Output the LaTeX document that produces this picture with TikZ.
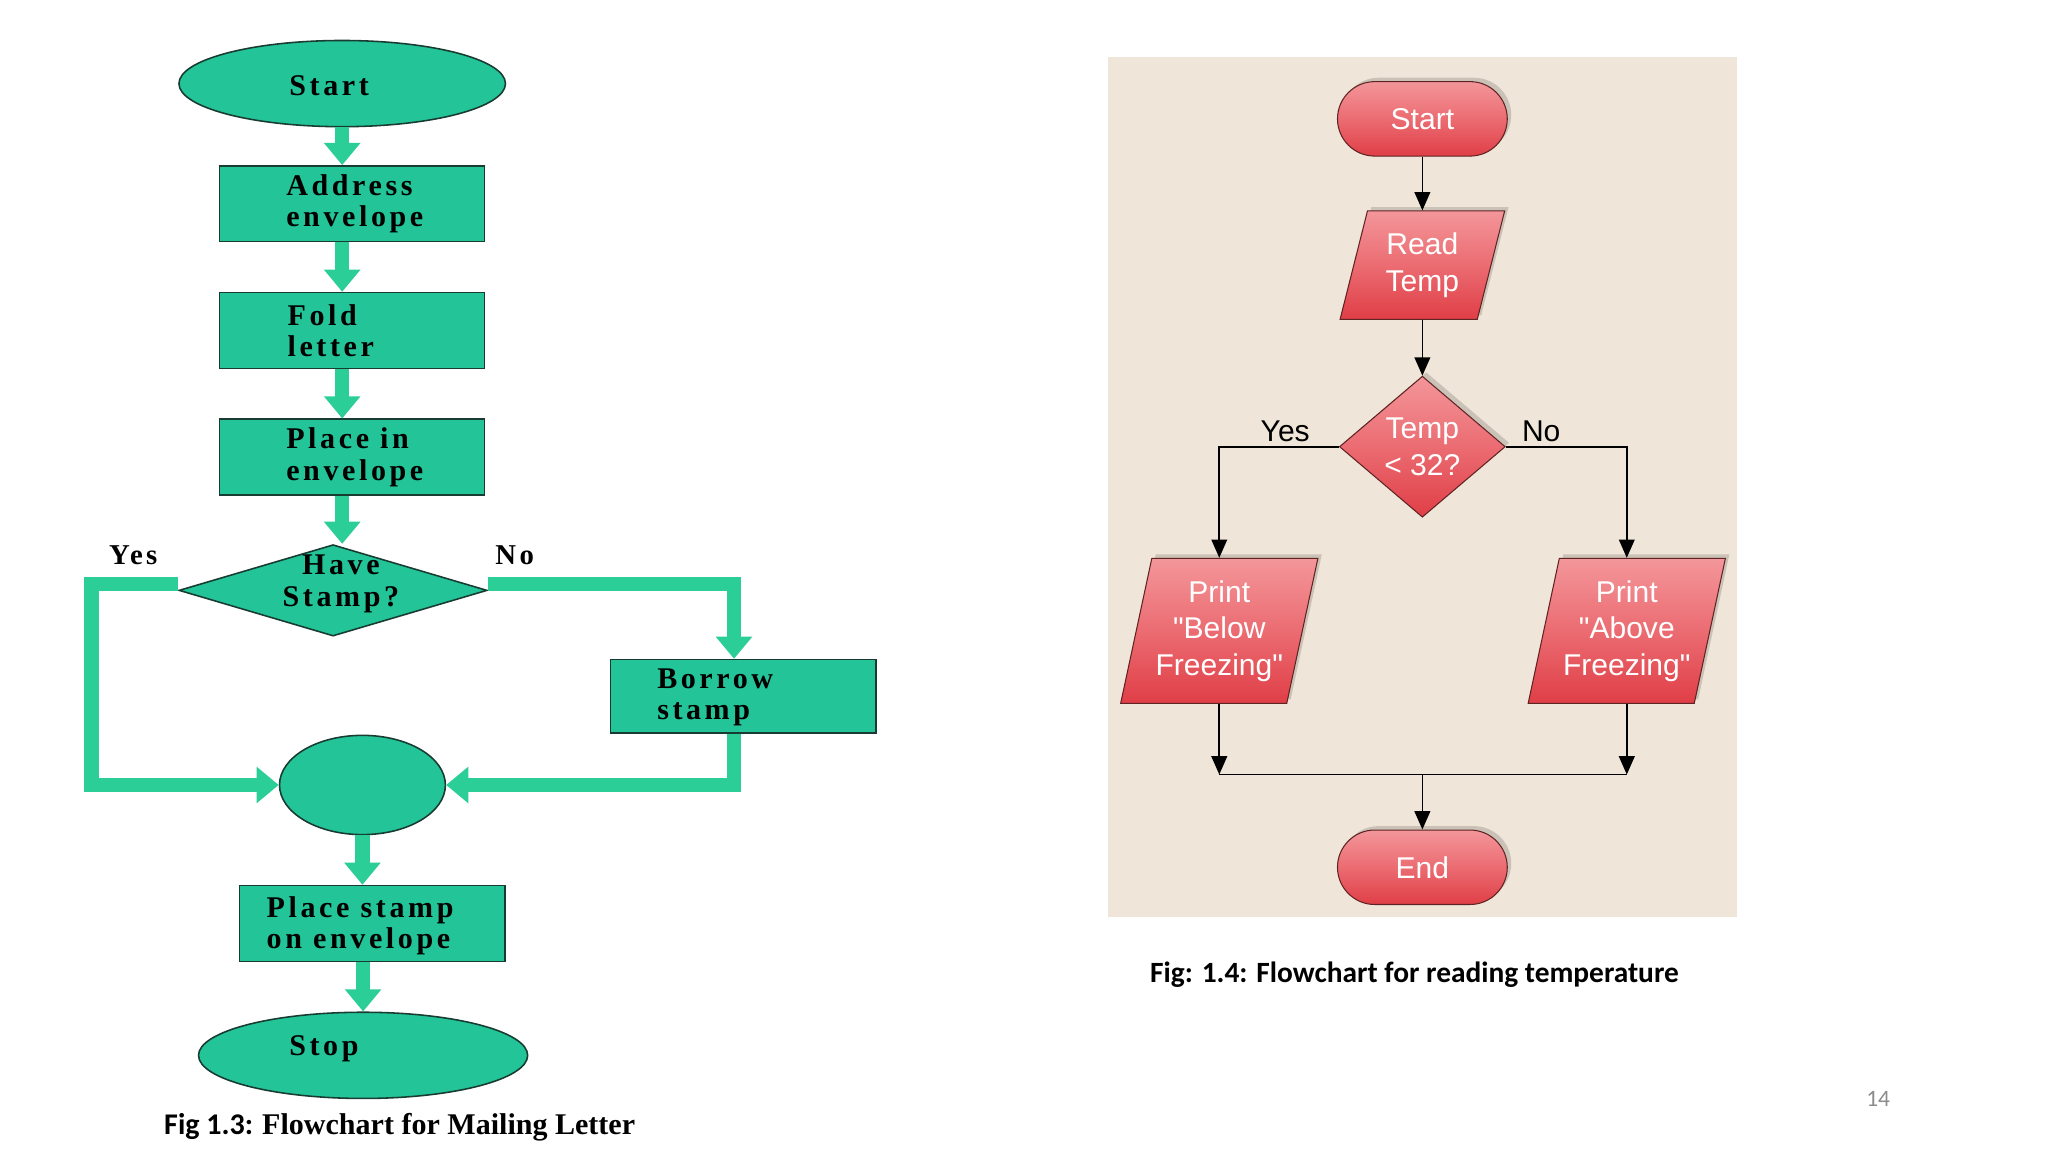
\documentclass[tikz,border=0pt]{standalone}
\usepackage{fontspec}
\setmainfont{Liberation Serif}
\newfontfamily\gfontfam[LetterSpace=12]{Liberation Serif}
\newfontfamily\arialf{Liberation Sans}
\newfontfamily\calib{Carlito}
\usetikzlibrary{shapes.geometric,shapes.misc,arrows.meta,shadows}
\definecolor{gfill}{RGB}{34,196,152}
\definecolor{garr}{RGB}{44,206,152}
\definecolor{gline}{RGB}{25,60,50}
\definecolor{beige}{RGB}{239,229,216}
\definecolor{rtop}{RGB}{243,150,154}
\definecolor{rmid}{RGB}{235,108,114}
\definecolor{rbot}{RGB}{224,62,70}
\definecolor{rline}{RGB}{95,35,35}
\definecolor{pgnum}{RGB}{140,140,140}
\begin{document}
\begin{tikzpicture}[x=1pt,y=-1pt,
  gshape/.style={fill=gfill, draw=gline, line width=1.2pt, inner sep=0pt},
  gbox/.style={gshape, rectangle, minimum width=203pt, minimum height=58pt},
  gterm/.style={gshape, ellipse, minimum width=250pt, minimum height=66pt},
  gtxt/.style={font=\gfontfam\bfseries\fontsize{23}{24}\selectfont, inner sep=0pt, align=left, text=black},
  garrow/.style={draw=garr, line width=11pt, line join=miter, -{Triangle[width=27pt,length=17pt]}},
  rshape/.style={draw=rline, line width=0.8pt, inner sep=0pt, top color=rtop, bottom color=rbot, middle color=rmid,
     drop shadow={shadow xshift=3pt, shadow yshift=3pt, opacity=0.15, fill=black}},
  rtxt/.style={font=\arialf\fontsize{23}{28}\selectfont, text=white, align=center, inner sep=0pt},
  rterm/.style={rshape, rounded rectangle, minimum width=130pt, minimum height=57pt, rtxt},
  rpar/.style={rshape, trapezium, trapezium stretches=true, inner sep=2pt},
  rdec/.style={rshape, diamond, minimum width=127pt, minimum height=108pt, aspect=1.18, rtxt},
  barrow/.style={draw=black, line width=1.3pt, -{Triangle[width=12pt,length=14pt]}},
  bline/.style={draw=black, line width=1.3pt},
  lbl/.style={font=\arialf\fontsize{23}{28}\selectfont, text=black, inner sep=0pt},
  glbl/.style={font=\gfontfam\bfseries\fontsize{22}{24}\selectfont, text=black, inner sep=0pt}
]
\useasboundingbox (0,0) rectangle (1568,882);
\fill[white] (0,0) rectangle (1568,882);

% ---------- left flowchart ----------
\node[gterm] (gstart) at (262,64) {};
\node[gbox] (addr) at (269.5,156) {};
\node[gbox] (fold) at (269.5,253) {};
\node[gbox] (place) at (269.5,350) {};
\node[gshape, diamond, minimum width=236pt, minimum height=70pt] (have) at (255,452) {};
\node[gbox, minimum height=56pt] (borrow) at (569,533) {};
\node[gshape, ellipse, minimum width=127pt, minimum height=76pt] (junc) at (277.5,601) {};
\node[gbox] (pstamp) at (285,707) {};
\node[gterm, minimum width=252pt] (gstop) at (278,808) {};

\node[gtxt] (tstart) at (252,66) {Start};
\node[gtxt, anchor=west] (taddr) at (219,156) {Address\\envelope};
\node[gtxt, anchor=west] (tfold) at (220,253) {Fold\\letter};
\node[gtxt, anchor=west] (tplace) at (219,350) {Place in\\envelope};
\node[gtxt, align=center] (thave) at (261,447) {Have\\Stamp?};
\node[gtxt, anchor=west] (tborrow) at (503,534) {Borrow\\stamp};
\node[gtxt, anchor=west] (tpstamp) at (204,709) {Place stamp\\on envelope};
\node[gtxt] (tstop) at (248,803) {Stop};
\node[glbl] (gyes) at (102,425) {Yes};
\node[glbl] (gno) at (394,425) {No};

\coordinate (yesc) at (70,447);
\draw[garrow] (gstart.south) -- (gstart.south |- addr.north);
\draw[garrow] (gstart.south |- addr.south) -- (gstart.south |- fold.north);
\draw[garrow] (gstart.south |- fold.south) -- (gstart.south |- place.north);
\draw[garrow] (gstart.south |- place.south) -- (gstart.south |- have.north);
\draw[garrow] ([yshift=5pt]have.west) -- (yesc) |- (junc.west);
\draw[garrow] ([yshift=5pt]have.east) -| ([xshift=-7pt]borrow.north);
\draw[garrow] ([xshift=-7pt]borrow.south) |- (junc.east);
\draw[garrow] (junc.south) -- (junc.south |- pstamp.north);
\draw[garrow] (gstop.north |- pstamp.south) -- (gstop.north);

\node[inner sep=0pt, anchor=center] (cap1) at (306,863)
  {{\calib\bfseries\fontsize{23}{26}\selectfont Fig 1.3: }{\bfseries\fontsize{23}{26}\selectfont Flowchart for Mailing Letter}};

% ---------- right flowchart ----------
\fill[beige] (848,44) rectangle (1330,702);

\node[rterm] (rstart) at (1089,91) {Start};
\node[rpar, trapezium left angle=76, trapezium right angle=104, minimum width=126pt, minimum height=83pt,
      label={[rtxt]center:Read\\Temp}] (read) at (1089,203) {};
\node[rdec] (dec) at (1089,342) {Temp\\< 32?};
\node[rpar, trapezium left angle=77, trapezium right angle=103, minimum width=151pt, minimum height=111pt,
      label={[rtxt]center:Print\\"Below\\Freezing"}] (below) at (933.5,483) {};
\node[rpar, trapezium left angle=77, trapezium right angle=103, minimum width=151pt, minimum height=111pt,
      label={[rtxt]center:Print\\"Above\\Freezing"}] (above) at (1245.5,483) {};
\node[rterm] (rend) at (1089,664) {End};

\node[lbl] (ryes) at (984,330) {Yes};
\node[lbl] (rno) at (1180,330) {No};

\coordinate (mL) at (933.5,593);
\coordinate (mR) at (1245.5,593);
\coordinate (mC) at (1089,593);

\draw[barrow] (rstart.south) -- (read.north);
\draw[barrow] (read.south) -- (dec.north);
\draw[barrow] (dec.west) -| (below.north);
\draw[barrow] (dec.east) -| (above.north);
\draw[barrow] (below.south) -- (mL);
\draw[barrow] (above.south) -- (mR);
\draw[bline] (mL) -- (mR);
\draw[barrow] (mC) -- (rend.north);

\node[inner sep=0pt] (cap2) at (1083,746) {\calib\bfseries\fontsize{22.5}{26}\selectfont Fig: 1.4: Flowchart for reading temperature};
\node[inner sep=0pt, text=pgnum] (pnum) at (1438,841) {\calib\fontsize{18}{20}\selectfont 14};
\end{tikzpicture}
\end{document}
